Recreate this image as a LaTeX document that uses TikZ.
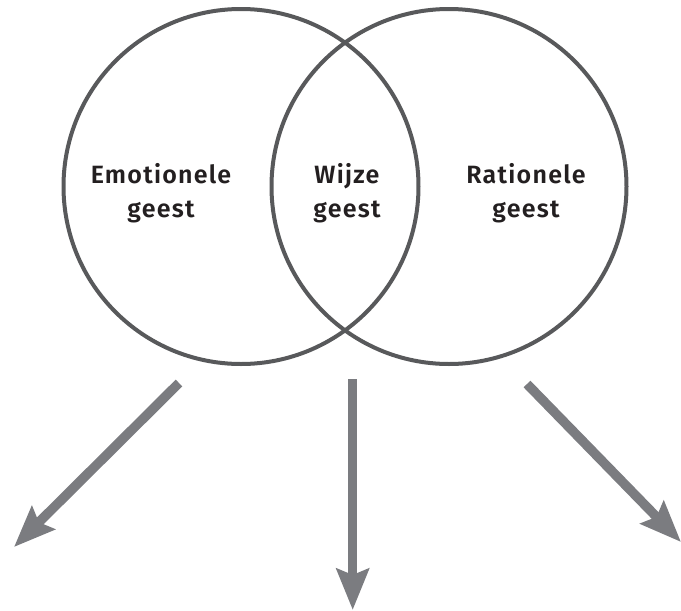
\documentclass[tikz,border=0pt]{standalone}
\usepackage{fontspec}
\setmainfont{Fira Sans}[BoldFont={Fira Sans SemiBold}, LetterSpace=5]
\usetikzlibrary{arrows.meta}
\definecolor{ringgray}{HTML}{58595B}
\definecolor{arrowgray}{HTML}{7B7C80}
\definecolor{textdark}{HTML}{231F20}
\tikzset{
  ring/.style={circle, draw=ringgray, line width=4pt, minimum size=355pt, inner sep=0pt},
  label/.style={text=textdark, align=center, font=\bfseries\fontsize{25}{33.5}\selectfont, inner sep=0pt},
  bigarrow/.style={draw=arrowgray, line width=9.5pt, -{Stealth[length=41pt, width=32pt, inset=6pt]}}
}
\begin{document}
\begin{tikzpicture}[x=1pt, y=-1pt]
\useasboundingbox (0,0) rectangle (681,611);
\node[ring] (L) at (241,186.5) {};
\node[ring] (R) at (449,186.5) {};
\node[label] (emo) at (161,193) {Emotionele\\geest};
\node[label] (wijze) at (347,193) {Wijze\\geest};
\node[label] (rat) at (526,193) {Rationele\\geest};
\coordinate (a1s) at (179,383);
\coordinate (a1e) at (14,547);
\coordinate (a2s) at (352.7,379);
\coordinate (a2e) at (352.7,610);
\coordinate (a3s) at (527,384);
\coordinate (a3e) at (681,542);
\draw[bigarrow] (a1s) -- (a1e);
\draw[bigarrow] (a2s) -- (a2e);
\draw[bigarrow] (a3s) -- (a3e);
\end{tikzpicture}
\end{document}
